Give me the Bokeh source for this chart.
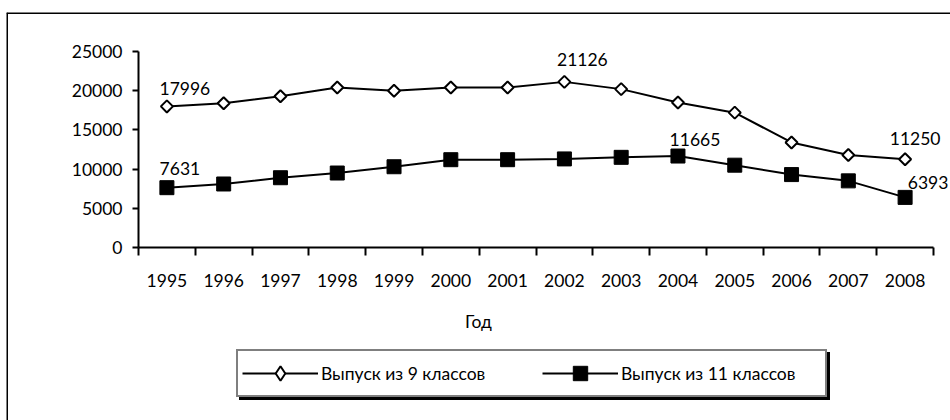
import math
from bokeh.plotting import figure
from bokeh.models import (LinearAxis, FixedTicker, Legend, LegendItem, Span,
                          Range1d, ColumnDataSource)
from bokeh.embed import file_html
from bokeh.resources import INLINE

# ---------------- data ----------------
years = ["1995", "1996", "1997", "1998", "1999", "2000", "2001",
         "2002", "2003", "2004", "2005", "2006", "2007", "2008"]
grad9 = [17996, 18400, 19300, 20400, 20000, 20400, 20400,
         21126, 20200, 18500, 17200, 13400, 11800, 11250]
grad11 = [7631, 8100, 8900, 9500, 10300, 11200, 11200,
          11300, 11500, 11665, 10500, 9300, 8500, 6393]
y_ticks = [0, 5000, 10000, 15000, 20000, 25000]
name9 = "Выпуск из 9 классов"
name11 = "Выпуск из 11 классов"
x_title = "Год"
# which points carry a value label (indices into years)
labels9_idx = [0, 7, 13]
labels11_idx = [0, 9, 13]

# ---------------- layout (pixels) ----------------
FONT = "Lato"
FS = "17.5px"
W, H = 950, 420
FRAME_L, FRAME_T = 6, 12               # outer chart border (left/top)
AX_LEFT_PX, AX_RIGHT_PX = 138, 933     # x of category boundaries 0 and 14
Y0_PX, YTOP_PX = 247, 51               # y of 0 and 25000

n = len(years)
xpp = (AX_RIGHT_PX - AX_LEFT_PX) / n
x_start = -(AX_LEFT_PX - FRAME_L) / xpp
x_end = n + (W - AX_RIGHT_PX) / xpp
ypp = y_ticks[-1] / (Y0_PX - YTOP_PX)
y_end = y_ticks[-1] + (YTOP_PX - FRAME_T) * ypp
y_start = -(H - Y0_PX) * ypp

p = figure(width=W, height=H, output_backend="svg", toolbar_location=None,
           x_range=Range1d(x_start, x_end), y_range=Range1d(y_start, y_end),
           x_axis_type=None, y_axis_type=None, title=None,
           min_border=0, min_border_top=FRAME_T, min_border_left=FRAME_L)
p.outline_line_color = None
p.background_fill_color = "white"
p.border_fill_color = "white"

# outer chart border (left & top only visible in reference)
p.add_layout(Span(location=x_start, dimension="height", line_color="black", line_width=3))
p.add_layout(Span(location=y_end, dimension="width", line_color="black", line_width=3))

xc = [i + 0.5 for i in range(n)]

# y axis
yax = LinearAxis(fixed_location=0, bounds=(y_ticks[0], y_ticks[-1]),
                 ticker=FixedTicker(ticks=y_ticks, minor_ticks=[]))
yax.axis_line_width = 2
yax.major_tick_line_width = 2
yax.major_tick_out = 6
yax.major_tick_in = 0
yax.minor_tick_out = 0
yax.minor_tick_in = 0
yax.major_label_standoff = 10
yax.major_label_text_font = FONT
yax.major_label_text_font_size = FS
yax.major_label_text_color = "black"
p.add_layout(yax, "left")

# x axis line + boundary ticks
xax = LinearAxis(fixed_location=0, bounds=(0, n),
                 ticker=FixedTicker(ticks=list(range(n + 1)), minor_ticks=[]))
xax.axis_line_width = 2
xax.major_tick_line_width = 2
xax.major_tick_out = 8
xax.major_tick_in = 0
xax.minor_tick_out = 0
xax.major_label_text_color = None
p.add_layout(xax, "below")

# x category labels
xlab = LinearAxis(fixed_location=0,
                  ticker=FixedTicker(ticks=xc, minor_ticks=[]),
                  major_label_overrides={x: y for x, y in zip(xc, years)})
xlab.axis_line_color = None
xlab.major_tick_line_color = None
xlab.major_tick_out = 0
xlab.minor_tick_out = 0
xlab.major_label_standoff = 26
xlab.major_label_text_font = FONT
xlab.major_label_text_font_size = FS
xlab.major_label_text_color = "black"
xlab.axis_label = x_title
xlab.axis_label_text_font = FONT
xlab.axis_label_text_font_size = FS
xlab.axis_label_text_font_style = "normal"
xlab.axis_label_text_color = "black"
xlab.axis_label_standoff = 21
p.add_layout(xlab, "below")

# series
l9 = p.line(xc, grad9, line_color="black", line_width=2)
m9 = p.scatter(xc, grad9, marker="square", angle=math.pi / 4, size=8.5,
               fill_color="white", line_color="black", line_width=2)
l11 = p.line(xc, grad11, line_color="black", line_width=2)
m11 = p.scatter(xc, grad11, marker="square", size=14,
                fill_color="black", line_color="black", line_width=1)
# legend-only glyph (the legend draws markers unrotated)
k9 = p.scatter([float("nan")], [float("nan")], marker="diamond", size=10,
               fill_color="white", line_color="black", line_width=2)

# value labels
dx9 = [18, 18, 10]
dy9 = [-18, -22, -21]
dx11 = [13, 17, 23]
dy11 = [-19, -17, -15]
lab_src = ColumnDataSource(dict(
    x=[xc[i] for i in labels9_idx] + [xc[i] for i in labels11_idx],
    y=[grad9[i] for i in labels9_idx] + [grad11[i] for i in labels11_idx],
    t=[str(grad9[i]) for i in labels9_idx] + [str(grad11[i]) for i in labels11_idx],
    dx=dx9 + dx11, dy=dy9 + dy11))
p.text(x="x", y="y", text="t", x_offset="dx", y_offset="dy", source=lab_src,
       text_align="center", text_baseline="middle", text_color="black",
       text_font={"value": FONT}, text_font_size={"value": FS})

# legend (with drop shadow)
def make_legend(loc, shadow):
    if shadow:
        items = [LegendItem(label=" ", renderers=[l9]),
                 LegendItem(label=" ", renderers=[l11])]
    else:
        items = [LegendItem(label=name9, renderers=[l9, k9]),
                 LegendItem(label=name11, renderers=[l11, m11])]
    lg = Legend(items=items, location=loc, orientation="horizontal",
                glyph_width=76, glyph_height=36, padding=4, spacing=21,
                label_standoff=3, label_width=200, label_height=20, margin=0,
                label_text_font=FONT, label_text_font_size=FS,
                border_line_width=2, border_line_color="black",
                background_fill_alpha=1, label_text_color="black")
    lg.background_fill_color = "black" if shadow else "white"
    return lg

LEG_X = 236 - FRAME_L
LEG_Y = H - 397
p.add_layout(make_legend((LEG_X + 3, LEG_Y - 3), True))
p.add_layout(make_legend((LEG_X, LEG_Y), False))

open("out.html", "w").write(file_html(p, INLINE))
